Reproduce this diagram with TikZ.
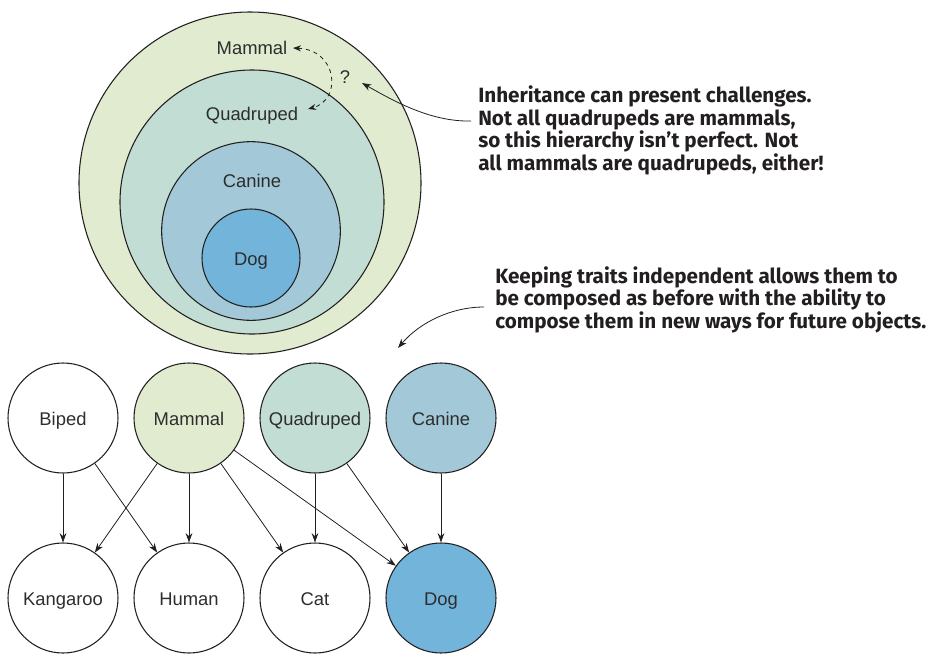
\documentclass[tikz,border=0pt]{standalone}
\usepackage{fontspec}
\setmainfont{Liberation Sans}
\newfontfamily\notefont{Fira Sans}
\usetikzlibrary{arrows.meta}
\definecolor{cmammal}{RGB}{225,235,207}
\definecolor{cquad}{RGB}{193,221,212}
\definecolor{ccanine}{RGB}{163,201,216}
\definecolor{cdog}{RGB}{114,180,218}
\definecolor{ink}{RGB}{35,31,32}
\definecolor{txt}{RGB}{45,45,45}
\begin{document}
\begin{tikzpicture}[x=0.75pt,y=-0.75pt,
  ring/.style={circle,draw=ink,line width=0.8pt,inner sep=0pt},
  lab/.style={text=txt,font=\fontsize{13.8}{16}\selectfont,inner sep=1pt,text height=10.6pt,text depth=0pt},
  gnode/.style={circle,draw=ink,line width=0.8pt,inner sep=0pt,minimum size=82.5pt,
    text=txt,font=\fontsize{13.8}{16}\selectfont,text height=10.6pt,text depth=0pt},
  arr/.style={draw=ink,line width=0.6pt,-{Stealth[length=7pt,width=5pt]}},
  note/.style={font=\notefont\bfseries\fontsize{15.5}{16.9}\selectfont,text=ink,align=left,inner sep=0pt}
]
\useasboundingbox (0,0) rectangle (929,654);
% nested circles
\node[ring,fill=cmammal,minimum size=256.5pt] (cm) at (250,183) {};
\node[ring,fill=cquad,minimum size=198pt] (cq) at (252,202) {};
\node[ring,fill=ccanine,minimum size=134pt] (cc) at (251,231) {};
\node[ring,fill=cdog,minimum size=73.5pt] (cd) at (251,258) {};
\node[lab] (lm) at (252,47) {Mammal};
\node[lab] (lq) at (252,113) {Quadruped};
\node[lab] (lc) at (252,180) {Canine};
\node[lab] (ld) at (251,258) {Dog};
\node[lab] (qm) at (345,76) {?};
\coordinate (dA) at (293,48);
\coordinate (dB) at (308,109);
\draw[draw=ink,line width=0.6pt,dashed,{Stealth[length=6pt,width=4.5pt]}-{Stealth[length=6pt,width=4.5pt]}]
  (dA) .. controls (338,50) and (342,100) .. (dB);
% notes
\node[note,anchor=west] (n1) at (478,130.5) {Inheritance can present challenges.\\Not all quadrupeds are mammals,\\so this hierarchy isn’t perfect. Not\\all mammals are quadrupeds, either!};
\node[note,anchor=west] (n2) at (495,299.5) {Keeping traits independent allows them to\\be composed as before with the ability to\\compose them in new ways for future objects.};
\coordinate (a1s) at (471,121);
\coordinate (a1e) at (362,83);
\draw[arr] (a1s) .. controls (430,122) and (392,100) .. (a1e);
\coordinate (a2s) at (484,307);
\coordinate (a2e) at (398,348);
\draw[arr] (a2s) .. controls (452,307) and (420,322) .. (a2e);
% graph
\node[gnode] (bb) at (63,418) {Biped};
\node[gnode,fill=cmammal] (bm) at (189,418) {Mammal};
\node[gnode,fill=cquad] (bq) at (315,418) {Quadruped};
\node[gnode,fill=ccanine] (bc) at (441,418) {Canine};
\node[gnode] (bk) at (63,598) {Kangaroo};
\node[gnode] (bh) at (189,598) {Human};
\node[gnode] (bt) at (315,598) {Cat};
\node[gnode,fill=cdog] (bd) at (441,598) {Dog};
\draw[arr] (bb) -- (bk);
\draw[arr] (bb) -- (bh);
\draw[arr] (bm) -- (bk);
\draw[arr] (bm) -- (bh);
\draw[arr] (bm) -- (bt);
\draw[arr] (bm) -- (bd);
\draw[arr] (bq) -- (bt);
\draw[arr] (bq) -- (bd);
\draw[arr] (bc) -- (bd);
\end{tikzpicture}
\end{document}
